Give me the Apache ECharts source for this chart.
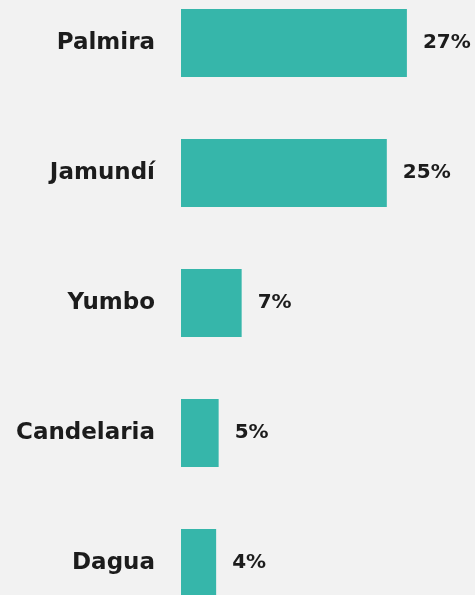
<!DOCTYPE html>
<html>
<head>
<meta charset="utf-8">
<script src="https://cdn.jsdelivr.net/npm/echarts@6/dist/echarts.min.js"></script>
<style>
  html, body { margin: 0; padding: 0; background: #f2f2f2; }
  #chart { width: 475px; height: 595px; }
</style>
</head>
<body>
<div id="chart"></div>
<script>
const categories = ['Palmira', 'Jamundí', 'Yumbo', 'Candelaria', 'Dagua'];
const values = [27.0, 24.6, 7.25, 4.5, 4.2];

const chart = echarts.init(document.getElementById('chart'));
const font = '"DejaVu Sans", sans-serif';

chart.setOption({
  backgroundColor: '#f2f2f2',
  animation: false,
  grid: {
    left: 181,
    right: 43,
    top: 43,
    height: 520,
  },
  xAxis: {
    type: 'value',
    min: 0,
    max: 30,
    show: false,
  },
  yAxis: {
    type: 'category',
    data: categories,
    inverse: true,
    boundaryGap: false,
    axisLine: { show: false },
    axisTick: { show: false },
    axisLabel: {
      margin: 26,
      color: '#1c1c1c',
      fontFamily: font,
      fontWeight: 'bold',
      fontSize: 23,
    },
  },
  series: [{
    type: 'bar',
    data: values,
    barWidth: 68,
    clip: false,
    itemStyle: { color: '#36b6aa' },
    label: {
      show: true,
      position: 'right',
      distance: 16,
      color: '#1c1c1c',
      fontFamily: font,
      fontWeight: 'bold',
      fontSize: 20,
      formatter: (p) => Math.round(p.value) + '%',
    },
  }],
});
</script>
</body>
</html>
